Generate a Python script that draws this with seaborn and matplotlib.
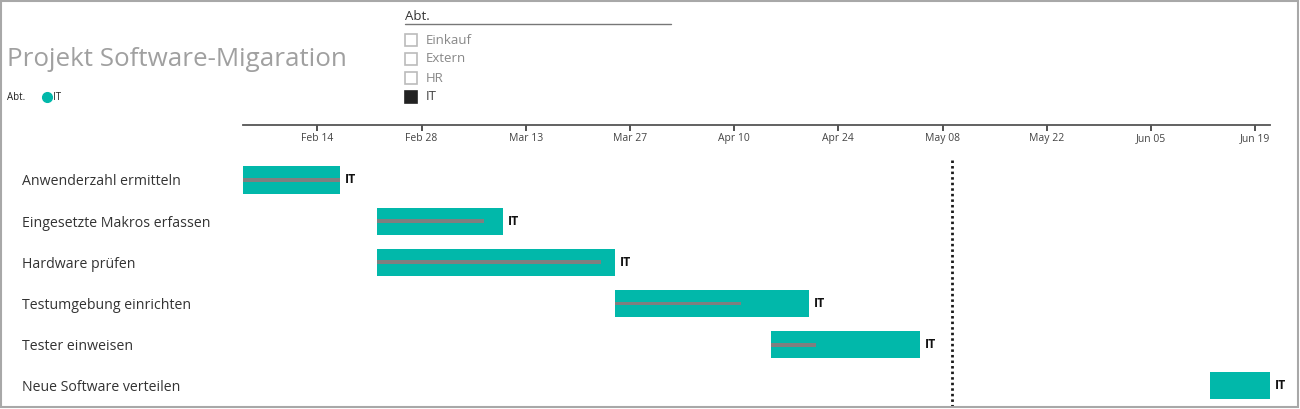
import pandas as pd
import seaborn as sns
import matplotlib.pyplot as plt
import matplotlib.dates as mdates
from matplotlib.patches import Rectangle
from matplotlib.lines import Line2D

# Gantt data
tasks = ["Anwenderzahl ermitteln", "Eingesetzte Makros erfassen", "Hardware prüfen",
         "Testumgebung einrichten", "Tester einweisen", "Neue Software verteilen"]
starts = ["2016-02-04", "2016-02-22", "2016-02-22", "2016-03-25", "2016-04-15", "2016-06-13"]
ends = ["2016-02-17", "2016-03-10", "2016-03-25", "2016-04-20", "2016-05-05", "2016-06-21"]
progress = [1.0, 0.85, 0.94, 0.65, 0.30, 0.0]
dept = ["IT", "IT", "IT", "IT", "IT", "IT"]
dept_options = ["Einkauf", "Extern", "HR", "IT"]
dept_selected = ["IT"]
tick_dates = ["2016-02-14", "2016-02-28", "2016-03-13", "2016-03-27", "2016-04-10",
              "2016-04-24", "2016-05-08", "2016-05-22", "2016-06-05", "2016-06-19"]
today = "2016-05-09 08:00"
x_range = ["2016-02-04", "2016-06-21"]

TEAL = "#01B8AA"
GREY = "#7F7F7F"
W, H = 1300, 409

df = pd.DataFrame({"task": tasks, "dept": dept, "progress": progress})
df["start"] = mdates.date2num(pd.to_datetime(starts))
df["end"] = mdates.date2num(pd.to_datetime(ends))
df["dur"] = df["end"] - df["start"]
df["done"] = df["dur"] * df["progress"]

sns.set_theme(style="white")
plt.rcParams["font.family"] = ["Open Sans", "DejaVu Sans"]

fig = plt.figure(figsize=(W / 100, H / 100), dpi=100)
ax = fig.add_axes([243 / W, 3 / H, (1270 - 243) / W, (406 - 125) / H])

# bars and progress lines
sns.barplot(data=df, x="dur", y="task", left=df["start"].to_numpy(), width=0.66,
            color=TEAL, saturation=1, errorbar=None, linewidth=0, ax=ax)
sns.barplot(data=df, x="done", y="task", left=df["start"].to_numpy(), width=0.09,
            color=GREY, saturation=1, errorbar=None, linewidth=0, ax=ax)

for i, row in df.iterrows():
    ax.annotate(row["dept"], (row["end"], i), xytext=(3.5, 0), textcoords="offset points",
                va="center", ha="left", fontsize=8.8, fontweight="bold", color="#111",
                annotation_clip=False)

# today marker
ax.vlines(mdates.date2num(pd.Timestamp(today)), -0.48, 5.6, colors="#1a1a1a",
          linestyles=(0, (0.9, 1.1)), linewidth=2.0, clip_on=False)

ax.set_xlim(mdates.date2num(pd.to_datetime(x_range)))
ax.set_ylim(5.49, -1.335)
ax.set_xlabel("")
ax.set_ylabel("")

# date axis on top, labels inside
ax.set_xticks(mdates.date2num(pd.to_datetime(tick_dates)))
ax.xaxis.set_major_formatter(mdates.DateFormatter("%b %d"))
ax.tick_params(axis="x", top=True, labeltop=True, bottom=False, labelbottom=False,
               direction="in", length=4, width=1.2, color="#333", pad=-14,
               labelsize=7.5, labelcolor="#444")
for s in ["left", "right", "bottom"]:
    ax.spines[s].set_visible(False)
ax.spines["top"].set_color("#555")
ax.spines["top"].set_linewidth(1.3)

# task names left aligned
ax.set_yticks(range(len(tasks)))
ax.set_yticklabels(tasks, ha="left", fontsize=10.2, color="#333")
ax.tick_params(axis="y", length=0, pad=(243 - 22) * 0.72)

# title and small legend
fig.text(7 / W, 1 - 60 / H, "Projekt Software-Migaration", fontsize=18.7, color="#A0A0A0",
         va="center", ha="left")
fig.text(7 / W, 1 - 97 / H, "Abt.", fontsize=7, color="#222", va="center")
fig.add_artist(Line2D([47 / W], [1 - 97 / H], marker="o", markersize=7, color=TEAL,
                      transform=fig.transFigure))
fig.text(53 / W, 1 - 97 / H, "IT", fontsize=7, color="#222", va="center")

# slicer
fig.text(405 / W, 1 - 17 / H, "Abt.", fontsize=9.5, color="#333", va="center")
fig.add_artist(Line2D([405 / W, 671 / W], [1 - 24 / H, 1 - 24 / H], color="#777",
                      linewidth=1, transform=fig.transFigure))
for k, name in enumerate(dept_options):
    yc = 40 + k * 19
    sel = name in dept_selected
    fig.add_artist(Rectangle((405 / W, 1 - (yc + 6) / H), 12 / W, 12 / H,
                             transform=fig.transFigure, facecolor="#222" if sel else "white",
                             edgecolor="#222" if sel else "#BBB", linewidth=1.2))
    fig.text(426 / W, 1 - yc / H, name, fontsize=9.5, color="#444" if sel else "#888",
             va="center")

# frame around the picture
fig.add_artist(Rectangle((0.5 / W, 2 / H), 1 - 2.5 / W, 1 - 3 / H, transform=fig.transFigure,
                         fill=False, edgecolor="#A8A8A8", linewidth=1.5))

fig.savefig("out.png", dpi=100)
